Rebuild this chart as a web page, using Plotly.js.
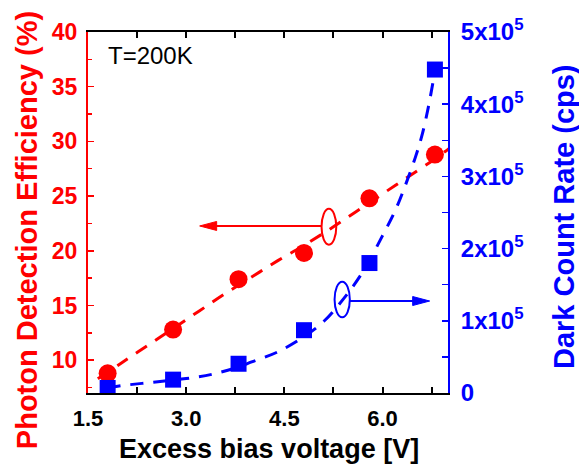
<!DOCTYPE html>
<html>
<head>
<meta charset="utf-8">
<script src="https://cdn.plot.ly/plotly-3.0.1.min.js"></script>
<style>
  html, body { margin: 0; padding: 0; background: #ffffff; }
  #chart { width: 579px; height: 467px; }
</style>
</head>
<body>
<div id="chart"></div>
<script>
// Measured points: excess bias voltage (V)
const biasVoltage = [1.8, 2.8, 3.8, 4.8, 5.8, 6.8];
// Photon detection efficiency (%)
const pdeValues = [8.8, 12.8, 17.4, 19.8, 24.8, 28.8];
// Dark count rate (cps)
const dcrValues = [7000, 18500, 40500, 87000, 180000, 448000];

// Fitted trend through the PDE points
const pdeFitVoltage = [1.65, 2.0, 2.4, 2.8, 3.2, 3.6, 4.0, 4.4, 4.8, 5.2, 5.6, 6.0, 6.4, 6.8, 7.05];
const pdeFitValues = [8.3, 9.7, 11.3, 12.9, 14.5, 16.1, 17.6, 19.1, 20.5, 22.0, 23.6, 25.2, 26.8, 28.4, 29.5];

// Fitted trend through the dark count points
const dcrFitVoltage = [1.8, 2.0, 2.5, 3.0, 3.4, 3.8, 4.0, 4.4, 4.8, 5.1, 5.4, 5.7, 6.0, 6.2, 6.35, 6.5, 6.6, 6.7, 6.8];
const dcrFitValues = [7000, 10000, 15000, 20000, 26000, 36000, 43000, 57000, 78000, 99000, 130000, 168000, 218000, 254000, 288000, 326000, 356000, 396000, 446000];

// Axis ticks
const xTickVals = [1.5, 3.0, 4.5, 6.0];
const xTickText = ['1.5', '3.0', '4.5', '6.0'];
const dcrTickVals = [0, 100000, 200000, 300000, 400000, 500000];
const dcrTickText = ['0', '1x10<sup>5</sup>', '2x10<sup>5</sup>', '3x10<sup>5</sup>', '4x10<sup>5</sup>', '5x10<sup>5</sup>'];

// Axis titles
const xTitle = 'Excess bias voltage [V]';
const pdeTitle = 'Photon Detection Efficiency (%)';
const dcrTitle = 'Dark Count Rate (cps)';

const RED = '#ff0000';
const BLUE = '#0000ff';
const FONT = 'Liberation Sans, Arial, sans-serif';
const FIT_DASH = '13px,10px';

const traces = [
  {
    x: pdeFitVoltage, y: pdeFitValues, yaxis: 'y',
    mode: 'lines', line: { color: RED, width: 3, dash: FIT_DASH, shape: 'spline' },
    hoverinfo: 'skip', showlegend: false
  },
  {
    x: dcrFitVoltage, y: dcrFitValues, yaxis: 'y2',
    mode: 'lines', line: { color: BLUE, width: 3, dash: FIT_DASH, shape: 'spline' },
    hoverinfo: 'skip', showlegend: false
  },
  {
    x: biasVoltage, y: pdeValues, yaxis: 'y',
    mode: 'markers', marker: { symbol: 'circle', size: 18, color: RED },
    showlegend: false
  },
  {
    x: biasVoltage, y: dcrValues, yaxis: 'y2',
    mode: 'markers', marker: { symbol: 'square', size: 16, color: BLUE },
    showlegend: false
  }
];

// Arrow and ellipse markers that tie each curve to its axis
const pdeArrowY = 22.27;
const dcrArrowY = 127400;
const shapes = [
  { type: 'circle', xref: 'x', yref: 'y', x0: 5.068, x1: 5.293, y0: 20.56, y1: 23.84,
    line: { color: RED, width: 2 } },
  { type: 'line', xref: 'x', yref: 'y', x0: 3.35, x1: 5.068, y0: pdeArrowY, y1: pdeArrowY,
    line: { color: RED, width: 2 } },
  { type: 'path', xref: 'x', yref: 'y', xsizemode: 'pixel', ysizemode: 'pixel',
    xanchor: 3.206, yanchor: pdeArrowY, path: 'M0,0 L17,4.5 L17,-4.5 Z',
    fillcolor: RED, line: { color: RED, width: 1 } },
  { type: 'circle', xref: 'x', yref: 'y2', x0: 5.267, x1: 5.50, y0: 104800, y1: 154200,
    line: { color: BLUE, width: 2 } },
  { type: 'line', xref: 'x', yref: 'y2', x0: 5.50, x1: 6.55, y0: dcrArrowY, y1: dcrArrowY,
    line: { color: BLUE, width: 2 } },
  { type: 'path', xref: 'x', yref: 'y2', xsizemode: 'pixel', ysizemode: 'pixel',
    xanchor: 6.72, yanchor: dcrArrowY, path: 'M0,0 L-17,4.5 L-17,-4.5 Z',
    fillcolor: BLUE, line: { color: BLUE, width: 1 } }
];

const layout = {
  width: 579, height: 467,
  margin: { l: 88, r: 131, t: 32, b: 74, pad: 0 },
  paper_bgcolor: '#ffffff', plot_bgcolor: '#ffffff',
  font: { family: FONT },
  showlegend: false,
  xaxis: {
    range: [1.5, 7.0], tickmode: 'array', tickvals: xTickVals, ticktext: xTickText,
    ticks: 'inside', ticklen: 6, tickwidth: 2, tickcolor: '#000000',
    minor: { tickmode: 'linear', tick0: 1.5, dtick: 0.75, ticks: 'inside', ticklen: 6, tickwidth: 2, tickcolor: '#000000' },
    showline: true, linecolor: '#000000', linewidth: 2, mirror: 'ticks',
    showgrid: false, zeroline: false,
    tickfont: { family: FONT, size: 22, color: '#000000', weight: 'bold' },
    ticklabelstandoff: 5
  },
  yaxis: {
    range: [7, 40], tickmode: 'linear', tick0: 0, dtick: 5,
    ticks: 'inside', ticklen: 6, tickwidth: 1.5, tickcolor: RED,
    minor: { tickmode: 'linear', tick0: 0, dtick: 2.5, ticks: 'inside', ticklen: 4, tickwidth: 1.5, tickcolor: RED },
    showline: true, linecolor: RED, linewidth: 2,
    showgrid: false, zeroline: false,
    tickfont: { family: FONT, size: 23, color: RED, weight: 'bold' },
    ticklabelstandoff: 4
  },
  yaxis2: {
    overlaying: 'y', side: 'right',
    range: [0, 500000], tickmode: 'array', tickvals: dcrTickVals, ticktext: dcrTickText,
    ticks: 'inside', ticklen: 6, tickwidth: 1.5, tickcolor: BLUE,
    minor: { tickmode: 'linear', tick0: 0, dtick: 50000, ticks: 'inside', ticklen: 6, tickwidth: 1.5, tickcolor: BLUE },
    showline: true, linecolor: BLUE, linewidth: 2,
    showgrid: false, zeroline: false,
    tickfont: { family: FONT, size: 24, color: BLUE, weight: 'bold' },
    ticklabelstandoff: 6
  },
  shapes: shapes,
  annotations: [
    { text: 'T=200K', xref: 'paper', yref: 'paper', x: 0.05, y: 0.934,
      xanchor: 'left', yanchor: 'middle', showarrow: false,
      font: { family: FONT, size: 24, color: '#000000' } },
    { text: xTitle, xref: 'paper', yref: 'paper', x: 0.5014, y: -0.155,
      xanchor: 'center', yanchor: 'middle', showarrow: false,
      font: { family: FONT, size: 27, color: '#000000', weight: 'bold' } },
    { text: pdeTitle, xref: 'paper', yref: 'paper', x: -0.169, y: 0.4515, textangle: -90,
      xanchor: 'center', yanchor: 'middle', showarrow: false,
      font: { family: FONT, size: 29, color: RED, weight: 'bold' } },
    { text: dcrTitle, xref: 'paper', yref: 'paper', x: 1.322, y: 0.49, textangle: -90,
      xanchor: 'center', yanchor: 'middle', showarrow: false,
      font: { family: FONT, size: 29, color: BLUE, weight: 'bold' } }
  ]
};

Plotly.newPlot('chart', traces, layout, { staticPlot: true, displayModeBar: false });
</script>
</body>
</html>
